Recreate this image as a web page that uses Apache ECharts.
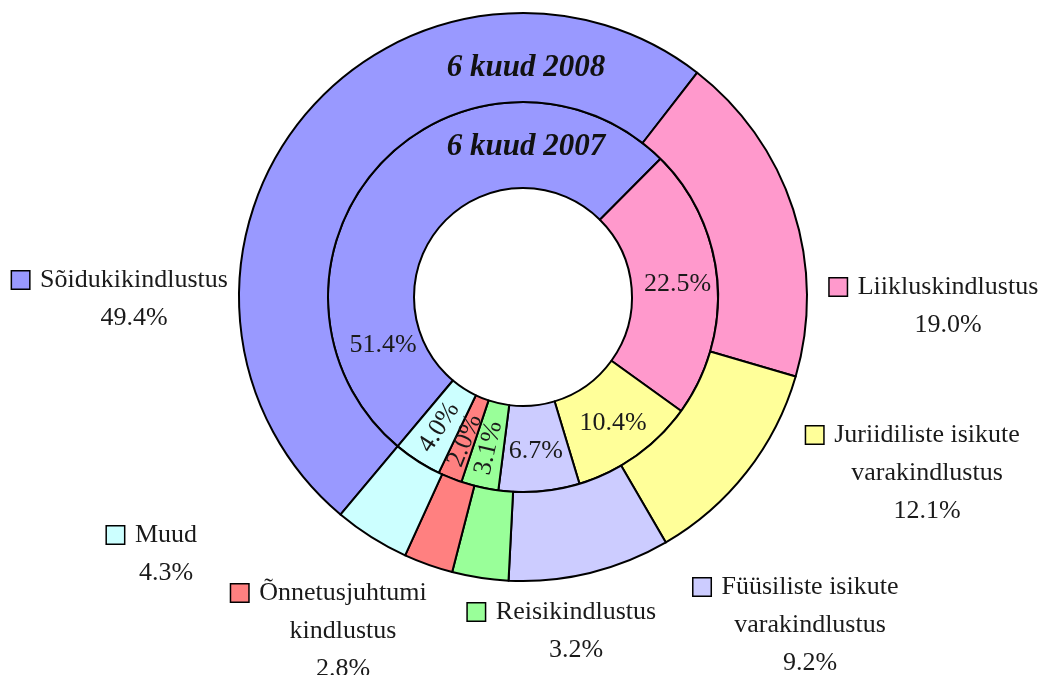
<!DOCTYPE html>
<html>
<head>
<meta charset="utf-8">
<script src="https://cdn.jsdelivr.net/npm/echarts@6/dist/echarts.min.js"></script>
<style>
html,body{margin:0;padding:0;background:#fff}
#main{width:1042px;height:675px}
</style>
</head>
<body>
<div id="main"></div>
<script>
var categories = ['Sõidukikindlustus','Liikluskindlustus','Juriidiliste isikute\nvarakindlustus','Füüsiliste isikute\nvarakindlustus','Reisikindlustus','Õnnetusjuhtumi\nkindlustus','Muud'];
var values2008 = [49.4,19.0,12.1,9.2,3.2,2.8,4.3];
var values2007 = [51.4,22.5,10.4,6.7,3.1,2.0,4.0];
var ringTitles = ['6 kuud 2008','6 kuud 2007'];
var colors = ['#9999ff','#ff99cc','#ffff99','#ccccff','#99ff99','#ff8080','#ccffff'];

// where the outer ring labels sit (block centre x, top y)
var outerLabelPos = [[120,261],[934,268],[913,416],[796,568],[562,593],[329,574],[152,516]];

var font = 'Liberation Serif';
var myChart = echarts.init(document.getElementById('main'));

var rich = {
  g:{width:11,align:'center'},
  s:{width:28,align:'center'},
  t:{fontSize:26,lineHeight:38,fontFamily:font,color:'#1a1a1a',align:'center'}
};
colors.forEach(function(c,i){
  rich['k'+i] = {width:17,height:17,backgroundColor:c,borderColor:'#000',borderWidth:1.5,align:'center'};
});

function outerLabel(p){
  var lines = p.name.split('\n');
  lines.push(p.value.toFixed(1)+'%');
  return lines.map(function(l,i){
    return (i===0 ? '{k'+p.dataIndex+'|}{g|}' : '{s|}') + '{t|'+l+'}';
  }).join('\n');
}

var innerData = values2007.map(function(v,i){
  var d = {name:categories[i], value:v};
  if (v < 5) d.label = {rotate:'radial'};
  return d;
});
var outerData = values2008.map(function(v,i){
  return {name:categories[i], value:v};
});

var titleStyle = {font:'italic bold 31px "Liberation Serif"', fill:'#111', align:'center', verticalAlign:'middle'};

var option = {
  backgroundColor:'#fff',
  animation:false,
  color:colors,
  graphic:[
    {type:'text', z:100, x:526, y:68, style:Object.assign({text:ringTitles[0]}, titleStyle)},
    {type:'text', z:100, x:526, y:147, style:Object.assign({text:ringTitles[1]}, titleStyle)}
  ],
  series:[{
    type:'pie',
    name:ringTitles[1],
    center:[523,297],
    radius:[109,195],
    startAngle:230,
    clockwise:true,
    silent:true,
    avoidLabelOverlap:false,
    itemStyle:{borderColor:'#000',borderWidth:2},
    label:{
      position:'inside', fontFamily:font, fontSize:26, color:'#1a1a1a', textBorderWidth:0,
      formatter:function(p){ return p.value.toFixed(1)+'%'; }
    },
    labelLine:{show:false},
    labelLayout:function(p){
      // Excel moved the big 2007 label down to the left
      return p.dataIndex===0 ? {x:383,y:345,align:'center',verticalAlign:'middle'} : {};
    },
    data:innerData
  },{
    type:'pie',
    name:ringTitles[0],
    center:[523,297],
    radius:[195,284],
    startAngle:230,
    clockwise:true,
    silent:true,
    avoidLabelOverlap:false,
    itemStyle:{borderColor:'#000',borderWidth:2},
    label:{position:'outside', formatter:outerLabel, rich:rich, align:'center', textBorderWidth:0},
    labelLine:{show:false},
    labelLayout:function(p){
      var q = outerLabelPos[p.dataIndex];
      return {x:q[0], y:q[1], align:'center', verticalAlign:'top'};
    },
    data:outerData
  }]
};

myChart.setOption(option);
</script>
</body>
</html>
